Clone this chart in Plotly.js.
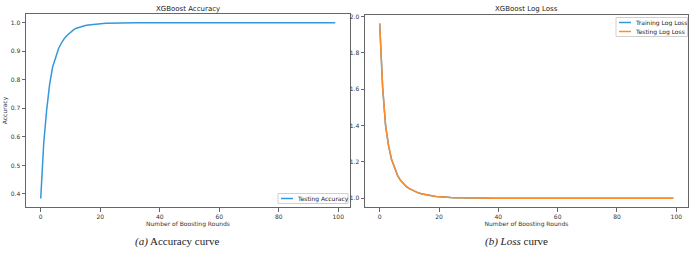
<!DOCTYPE html>
<html>
<head>
<meta charset="utf-8">
<script src="https://cdn.plot.ly/plotly-3.0.1.min.js"></script>
<style>
  html, body { margin: 0; padding: 0; background: #fff; }
  #chart { width: 691px; height: 257px; }
</style>
</head>
<body>
<div id="chart"></div>
<script>
// ---------------- DATA ----------------
const rounds = [
  0,1,2,3,4,5,6,7,8,9,10,11,12,13,14,15,16,17,18,19,
  20,21,22,23,24,25,26,27,28,29,30,31,32,33,34,35,36,37,38,39,
  40,41,42,43,44,45,46,47,48,49,50,51,52,53,54,55,56,57,58,59,
  60,61,62,63,64,65,66,67,68,69,70,71,72,73,74,75,76,77,78,79,
  80,81,82,83,84,85,86,87,88,89,90,91,92,93,94,95,96,97,98,99
];

const testingAccuracy = [
  0.384,0.577,0.695,0.785,0.845,0.882,0.910,0.930,0.946,0.957,
  0.967,0.975,0.981,0.985,0.988,0.9905,0.9925,0.994,0.9952,0.9962,
  0.997,0.9976,0.9981,0.9985,0.9988,0.999,0.9992,0.9993,0.9994,0.9995,
  0.9996,0.9996,0.9997,0.9997,0.9997,0.9998,0.9998,0.9998,0.9998,0.9999,
  0.9999,0.9999,0.9999,0.9999,0.9999,0.9999,0.9999,0.9999,0.9999,0.9999,
  0.9999,0.9999,0.9999,0.9999,0.9999,0.9999,1.0,1.0,1.0,1.0,
  1.0,1.0,1.0,1.0,1.0,1.0,1.0,1.0,1.0,1.0,
  1.0,1.0,1.0,1.0,1.0,1.0,1.0,1.0,1.0,1.0,
  1.0,1.0,1.0,1.0,1.0,1.0,1.0,1.0,1.0,1.0,
  1.0,1.0,1.0,1.0,1.0,1.0,1.0,1.0,1.0,1.0
];

const trainingLogLoss = [
  1.962,1.608,1.398,1.288,1.213,1.163,1.126,1.099,1.079,1.064,
  1.053,1.044,1.036,1.030,1.025,1.021,1.017,1.014,1.012,1.010,
  1.008,1.007,1.006,1.005,1.004,1.0034,1.0029,1.0024,1.002,1.0017,
  1.0014,1.0012,1.001,1.0009,1.0008,1.0007,1.0006,1.0006,1.0005,1.0005,
  1.0004,1.0004,1.0004,1.0003,1.0003,1.0003,1.0002,1.0002,1.0002,1.0002,
  1.0002,1.0001,1.0001,1.0001,1.0001,1.0001,1.0001,1.0001,1.0001,1.0001,
  1.0001,1.0001,1.0001,1.0001,1.0001,1.0,1.0,1.0,1.0,1.0,
  1.0,1.0,1.0,1.0,1.0,1.0,1.0,1.0,1.0,1.0,
  1.0,1.0,1.0,1.0,1.0,1.0,1.0,1.0,1.0,1.0,
  1.0,1.0,1.0,1.0,1.0,1.0,1.0,1.0,1.0,1.0
];

const testingLogLoss = [
  1.962,1.610,1.400,1.290,1.215,1.165,1.128,1.100,1.080,1.065,
  1.053,1.044,1.036,1.030,1.025,1.021,1.017,1.014,1.012,1.010,
  1.008,1.007,1.006,1.005,1.004,1.0035,1.003,1.0025,1.002,1.0018,
  1.0015,1.0013,1.0011,1.001,1.0009,1.0008,1.0007,1.0006,1.0006,1.0005,
  1.0005,1.0004,1.0004,1.0004,1.0003,1.0003,1.0003,1.0002,1.0002,1.0002,
  1.0002,1.0002,1.0001,1.0001,1.0001,1.0001,1.0001,1.0001,1.0001,1.0001,
  1.0001,1.0001,1.0001,1.0001,1.0001,1.0001,1.0001,1.0,1.0,1.0,
  1.0,1.0,1.0,1.0,1.0,1.0,1.0,1.0,1.0,1.0,
  1.0,1.0,1.0,1.0,1.0,1.0,1.0,1.0,1.0,1.0,
  1.0,1.0,1.0,1.0,1.0,1.0,1.0,1.0,1.0,1.0
];

const xTicks = [0, 20, 40, 60, 80, 100];
const accTicks = [0.4, 0.5, 0.6, 0.7, 0.8, 0.9, 1.0];
const lossTicks = [1.0, 1.2, 1.4, 1.6, 1.8, 2.0];

const titles = ["XGBoost Accuracy", "XGBoost Log Loss"];
const captions = ["<i>(a)</i> Accuracy curve", "<i>(b) Loss</i> curve"];
const xTitle = "Number of Boosting Rounds";
const accYTitle = "Accuracy";
const legendNames = ["Testing Accuracy", "Training Log Loss", "Testing Log Loss"];

// ---------------- STYLE / LAYOUT ----------------
const W = 691, H = 257;
const BLUE = "#3498db";
const ORANGE = "#ff8c28";
const px = v => v / W;
const py = v => 1 - v / H;

const tickFont = { family: "DejaVu Sans", size: 6, color: "#333" };
const axisCommon = {
  showline: true, mirror: true, linecolor: "#666", linewidth: 1,
  ticks: "outside", ticklen: 3.5, tickwidth: 1, tickcolor: "#666",
  showgrid: false, zeroline: false, tickfont: tickFont,
  fixedrange: true
};

const traces = [
  { x: rounds, y: testingAccuracy, type: "scatter", mode: "lines",
    line: { color: BLUE, width: 1.5 }, xaxis: "x", yaxis: "y",
    name: legendNames[0], showlegend: false },
  { x: rounds, y: trainingLogLoss, type: "scatter", mode: "lines",
    line: { color: BLUE, width: 1.5 }, xaxis: "x2", yaxis: "y2",
    name: legendNames[1], showlegend: false },
  { x: rounds, y: testingLogLoss, type: "scatter", mode: "lines",
    line: { color: ORANGE, width: 1.5 }, xaxis: "x2", yaxis: "y2",
    name: legendNames[2], showlegend: false }
];

const L = { x0: 26, x1: 350, y0: 14, y1: 207 };
const R = { x0: 365, x1: 688, y0: 14.7, y1: 207 };

const annFont = { family: "DejaVu Sans", size: 7, color: "#222" };
const legFont = { family: "DejaVu Sans", size: 6, color: "#222" };
const capFont = { family: "Liberation Serif", size: 11, color: "#222" };

const layout = {
  width: W, height: H,
  margin: { l: 0, r: 0, t: 0, b: 0, pad: 0 },
  paper_bgcolor: "#fff", plot_bgcolor: "#fff",
  showlegend: false,
  xaxis: Object.assign({}, axisCommon, {
    domain: [px(L.x0), px(L.x1)], range: [-4.95, 103.95], anchor: "y",
    tickvals: xTicks,
    title: { text: xTitle, font: tickFont, standoff: 2 }
  }),
  yaxis: Object.assign({}, axisCommon, {
    domain: [py(L.y1), py(L.y0)], range: [0.3543, 1.0308], anchor: "x",
    tickvals: accTicks, tickformat: ".1f",
    title: { text: accYTitle, font: tickFont, standoff: 2 }
  }),
  xaxis2: Object.assign({}, axisCommon, {
    domain: [px(R.x0), px(R.x1)], range: [-4.95, 103.95], anchor: "y2",
    tickvals: xTicks,
    title: { text: xTitle, font: tickFont, standoff: 2 }
  }),
  yaxis2: Object.assign({}, axisCommon, {
    domain: [py(R.y1), py(R.y0)], range: [0.952, 2.010], anchor: "x2",
    tickvals: lossTicks, tickformat: ".1f"
  }),
  annotations: [
    { text: titles[0], x: px((L.x0 + L.x1) / 2), y: py(8.7), xref: "paper", yref: "paper",
      showarrow: false, font: annFont, xanchor: "center", yanchor: "middle" },
    { text: titles[1], x: px((R.x0 + R.x1) / 2), y: py(8.7), xref: "paper", yref: "paper",
      showarrow: false, font: annFont, xanchor: "center", yanchor: "middle" },
    { text: captions[0], x: px(177), y: py(241), xref: "paper", yref: "paper",
      showarrow: false, font: capFont, xanchor: "center", yanchor: "middle" },
    { text: captions[1], x: px(516), y: py(241), xref: "paper", yref: "paper",
      showarrow: false, font: capFont, xanchor: "center", yanchor: "middle" },
    // legend texts
    { text: legendNames[0], x: px(295), y: py(198.5), xref: "paper", yref: "paper",
      showarrow: false, font: legFont, xanchor: "left", yanchor: "middle" },
    { text: legendNames[1], x: px(633), y: py(22.5), xref: "paper", yref: "paper",
      showarrow: false, font: legFont, xanchor: "left", yanchor: "middle" },
    { text: legendNames[2], x: px(633), y: py(31.5), xref: "paper", yref: "paper",
      showarrow: false, font: legFont, xanchor: "left", yanchor: "middle" }
  ],
  shapes: [
    // legend frames
    { type: "rect", xref: "paper", yref: "paper", x0: px(278), x1: px(348), y0: py(193.5), y1: py(203.5),
      line: { color: "#d0d0d0", width: 1 }, fillcolor: "rgba(255,255,255,0.8)", layer: "above" },
    { type: "rect", xref: "paper", yref: "paper", x0: px(616), x1: px(687.5), y0: py(17.5), y1: py(36.5),
      line: { color: "#d0d0d0", width: 1 }, fillcolor: "rgba(255,255,255,0.8)", layer: "above" },
    // legend handles
    { type: "line", xref: "paper", yref: "paper", x0: px(281), x1: px(293), y0: py(198.5), y1: py(198.5),
      line: { color: BLUE, width: 1.5 }, layer: "above" },
    { type: "line", xref: "paper", yref: "paper", x0: px(619), x1: px(631), y0: py(22.5), y1: py(22.5),
      line: { color: BLUE, width: 1.5 }, layer: "above" },
    { type: "line", xref: "paper", yref: "paper", x0: px(619), x1: px(631), y0: py(31.5), y1: py(31.5),
      line: { color: ORANGE, width: 1.5 }, layer: "above" }
  ]
};

Plotly.newPlot("chart", traces, layout, { displayModeBar: false, staticPlot: true });
</script>
</body>
</html>
